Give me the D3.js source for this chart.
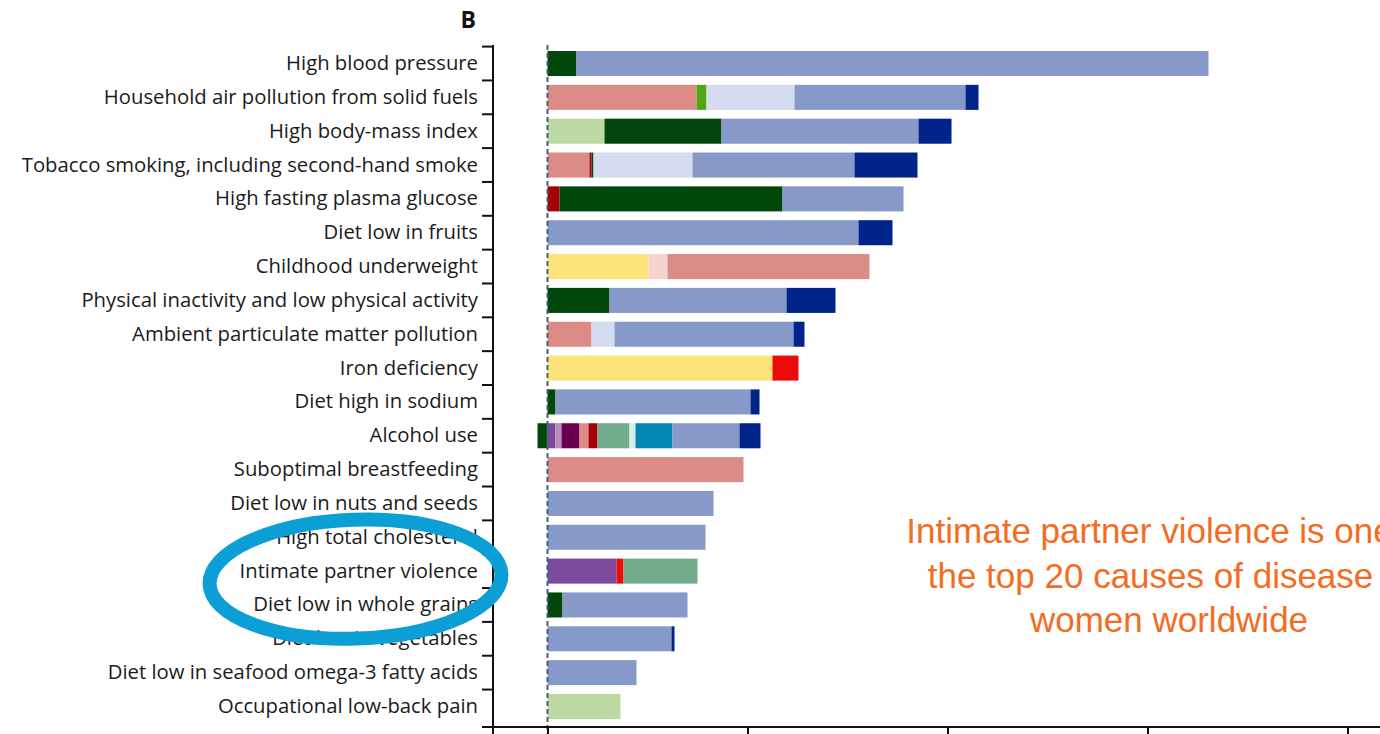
<!DOCTYPE html>
<html>
<head>
<meta charset="utf-8">
<script src="https://cdn.jsdelivr.net/npm/d3@7"></script>
<style>
  html, body { margin: 0; padding: 0; background: #ffffff; overflow: hidden; }
  svg { display: block; }
</style>
</head>
<body>
<svg id="chart" width="1380" height="734"></svg>
<script>
// Leading risk factors for women: share of global DALYs (%) split by cause group
const categories = [
  "High blood pressure",
  "Household air pollution from solid fuels",
  "High body-mass index",
  "Tobacco smoking, including second-hand smoke",
  "High fasting plasma glucose",
  "Diet low in fruits",
  "Childhood underweight",
  "Physical inactivity and low physical activity",
  "Ambient particulate matter pollution",
  "Iron deficiency",
  "Diet high in sodium",
  "Alcohol use",
  "Suboptimal breastfeeding",
  "Diet low in nuts and seeds",
  "High total cholesterol",
  "Intimate partner violence",
  "Diet low in whole grains",
  "Diet low in vegetables",
  "Diet low in seafood omega-3 fatty acids",
  "Occupational low-back pain"
];

// Cause groups, in stacking order from the zero line outwards
const causes = [
  "Nutritional deficiencies",
  "HIV/AIDS and tuberculosis",
  "Other communicable diseases",
  "Neonatal disorders",
  "Neglected tropical diseases and malaria",
  "Diarrhoea, lower respiratory and other common infections",
  "Maternal disorders",
  "Other non-communicable diseases",
  "Mental and behavioural disorders",
  "Transport injuries",
  "Cirrhosis of the liver",
  "Musculoskeletal disorders",
  "Diabetes, urogenital, blood and endocrine diseases",
  "Cataract and other sense organ diseases",
  "Chronic respiratory diseases",
  "Cardiovascular and circulatory diseases",
  "Neoplasms"
];

const causeColors = [
  "#fee27a", "#7b4a9c", "#b98abc", "#6a0051", "#f6d3cf", "#dc8b86",
  "#ec0b0b", "#a50006", "#73ab8d", "#d5eef0", "#0286b4", "#bcd9a3",
  "#01470b", "#52a611", "#d6dcf0", "#8799c9", "#00248a"
];

// One array per cause group, values in the order of `categories`
const nutritional   = [0, 0, 0, 0, 0, 0, 1.01, 0, 0, 2.25, 0, 0, 0, 0, 0, 0, 0, 0, 0, 0];
const hivTb         = [0, 0, 0, 0, 0, 0, 0, 0, 0, 0, 0, 0.08, 0, 0, 0, 0.69, 0, 0, 0, 0];
const otherCommun   = [0, 0, 0, 0, 0, 0, 0, 0, 0, 0, 0, 0.06, 0, 0, 0, 0, 0, 0, 0, 0];
const neonatal      = [0, 0, 0, 0, 0, 0, 0, 0, 0, 0, 0, 0.18, 0, 0, 0, 0, 0, 0, 0, 0];
const ntdMalaria    = [0, 0, 0, 0, 0, 0, 0.19, 0, 0, 0, 0, 0, 0, 0, 0, 0, 0, 0, 0, 0];
const infections    = [0, 1.49, 0, 0.42, 0, 0, 2.02, 0, 0.44, 0, 0, 0.09, 1.96, 0, 0, 0, 0, 0, 0, 0];
const maternal      = [0, 0, 0, 0, 0, 0, 0, 0, 0, 0.26, 0, 0, 0, 0, 0, 0.07, 0, 0, 0, 0];
const otherNcd      = [0, 0, 0, 0.02, 0.12, 0, 0, 0, 0, 0, 0, 0.09, 0, 0, 0, 0, 0, 0, 0, 0];
const mental        = [0, 0, 0, 0, 0, 0, 0, 0, 0, 0, 0, 0.32, 0, 0, 0, 0.74, 0, 0, 0, 0];
const transport     = [0, 0, 0, 0, 0, 0, 0, 0, 0, 0, 0, 0.06, 0, 0, 0, 0, 0, 0, 0, 0];
const cirrhosis     = [0, 0, 0, 0, 0, 0, 0, 0, 0, 0, 0, 0.37, 0, 0, 0, 0, 0, 0, 0, 0];
const musculo       = [0, 0, 0.57, 0, 0, 0, 0, 0, 0, 0, 0, 0, 0, 0, 0, 0, 0, 0, 0, 0.73];
const diabetes      = [0.29, 0, 1.17, 0.02, 2.23, 0, 0, 0.62, 0, 0, 0.08, -0.10, 0, 0, 0, 0, 0.15, 0, 0, 0];
const senseOrgan    = [0, 0.10, 0, 0, 0, 0, 0, 0, 0, 0, 0, 0, 0, 0, 0, 0, 0, 0, 0, 0];
const respiratory   = [0, 0.88, 0, 0.99, 0, 0, 0, 0, 0.23, 0, 0, 0, 0, 0, 0, 0, 0, 0, 0, 0];
const cardio        = [6.32, 1.71, 1.97, 1.62, 1.21, 3.11, 0, 1.77, 1.79, 0, 1.95, 0.67, 0, 1.66, 1.58, 0, 1.25, 1.24, 0.89, 0];
const neoplasms     = [0, 0.13, 0.33, 0.63, 0, 0.34, 0, 0.49, 0.11, 0, 0.09, 0.21, 0, 0, 0, 0, 0, 0.03, 0, 0];

const causeValues = [
  nutritional, hivTb, otherCommun, neonatal, ntdMalaria, infections, maternal,
  otherNcd, mental, transport, cirrhosis, musculo, diabetes, senseOrgan,
  respiratory, cardio, neoplasms
];

const xTicks = [0, 2, 4, 6, 8];
const panelLabel = "B";
const noteLines = [
  "Intimate partner violence is one of",
  "the top 20 causes of disease in",
  "women worldwide"
];
const highlighted = "Intimate partner violence";

// ---- table for the stack layout ----
const table = categories.map((risk, i) => {
  const row = { risk };
  causes.forEach((c, k) => { row[c] = causeValues[k][i]; });
  return row;
});

const stacked = d3.stack()
  .keys(causes)
  .offset(d3.stackOffsetDiverging)(table);

const color = d3.scaleOrdinal().domain(causes).range(causeColors);

// ---- scales ----
const x = d3.scaleLinear().domain([0, 8]).range([547.5, 1347.5]);
const y = d3.scaleBand()
  .domain(categories)
  .range([46.6, 723.4])
  .paddingInner(0.26)
  .paddingOuter(0.13);

const svg = d3.select("#chart");
const axisX = 493;      // vertical axis position
const baseY = 727;      // horizontal axis position

// ---- bars ----
const layers = svg.append("g").attr("class", "bars")
  .selectAll("g")
  .data(stacked)
  .join("g")
  .attr("fill", d => color(d.key));

layers.selectAll("rect")
  .data(d => d.filter(s => s[1] !== s[0]))
  .join("rect")
  .attr("x", s => x(Math.min(s[0], s[1])))
  .attr("width", s => Math.abs(x(s[1]) - x(s[0])))
  .attr("y", s => y(s.data.risk))
  .attr("height", y.bandwidth());

// ---- dashed zero reference ----
svg.append("line")
  .attr("x1", x(0)).attr("x2", x(0))
  .attr("y1", 45).attr("y2", 734)
  .attr("stroke", "#46607a")
  .attr("stroke-width", 2)
  .attr("stroke-dasharray", "5,3");

// ---- category axis ----
const yAxis = svg.append("g")
  .attr("transform", `translate(${axisX},0)`)
  .call(d3.axisLeft(y).tickSize(0).tickPadding(15));
yAxis.select(".domain").remove();
yAxis.selectAll("text")
  .attr("font-family", "'Open Sans', 'Noto Sans', sans-serif")
  .attr("font-size", 20.3)
  .attr("fill", "#1b1b1b");

// boundary ticks between categories
const boundaries = [y.range()[0]].concat(categories.map(c => y(c) - y.step() * y.paddingInner() / 2 + y.step()));
svg.append("g")
  .selectAll("line")
  .data(boundaries.slice(0, -1))
  .join("line")
  .attr("x1", axisX - 11).attr("x2", axisX)
  .attr("y1", d => d).attr("y2", d => d)
  .attr("stroke", "#111").attr("stroke-width", 2);

svg.append("line")
  .attr("x1", axisX).attr("x2", axisX)
  .attr("y1", 45).attr("y2", 734)
  .attr("stroke", "#111").attr("stroke-width", 2);

// ---- value axis (its labels sit below the visible frame) ----
const xAxis = svg.append("g")
  .attr("transform", `translate(0,${baseY})`)
  .call(d3.axisBottom(x).tickValues(xTicks).tickSize(9).tickSizeOuter(0).tickFormat(""));
xAxis.select(".domain").remove();
xAxis.selectAll(".tick line").attr("stroke", "#111").attr("stroke-width", 2);
svg.append("line")
  .attr("x1", 482).attr("x2", 1380)
  .attr("y1", baseY).attr("y2", baseY)
  .attr("stroke", "#111").attr("stroke-width", 2);

// ---- panel letter ----
svg.append("text")
  .attr("x", 476).attr("y", 28)
  .attr("text-anchor", "end")
  .attr("font-family", "'Open Sans', sans-serif")
  .attr("font-weight", 700)
  .attr("font-size", 23)
  .attr("fill", "#111")
  .text(panelLabel);

// ---- highlight ring around one risk factor ----
const hy = y(highlighted) + y.bandwidth() / 2;
svg.append("ellipse")
  .attr("cx", 355.5)
  .attr("cy", hy + 8)
  .attr("rx", 146)
  .attr("ry", 59.5)
  .attr("transform", `rotate(-2, 355.5, ${hy + 8})`)
  .attr("fill", "none")
  .attr("stroke", "#0b9fd6")
  .attr("stroke-width", 14);

// ---- note ----
svg.append("text")
  .attr("text-anchor", "middle")
  .attr("font-family", "'Liberation Sans', Arial, sans-serif")
  .attr("font-size", 35)
  .attr("fill", "#f46c22")
  .selectAll("tspan")
  .data(noteLines)
  .join("tspan")
  .attr("x", 1169)
  .attr("y", (d, i) => 543 + i * 44.5)
  .text(d => d);
</script>
</body>
</html>
